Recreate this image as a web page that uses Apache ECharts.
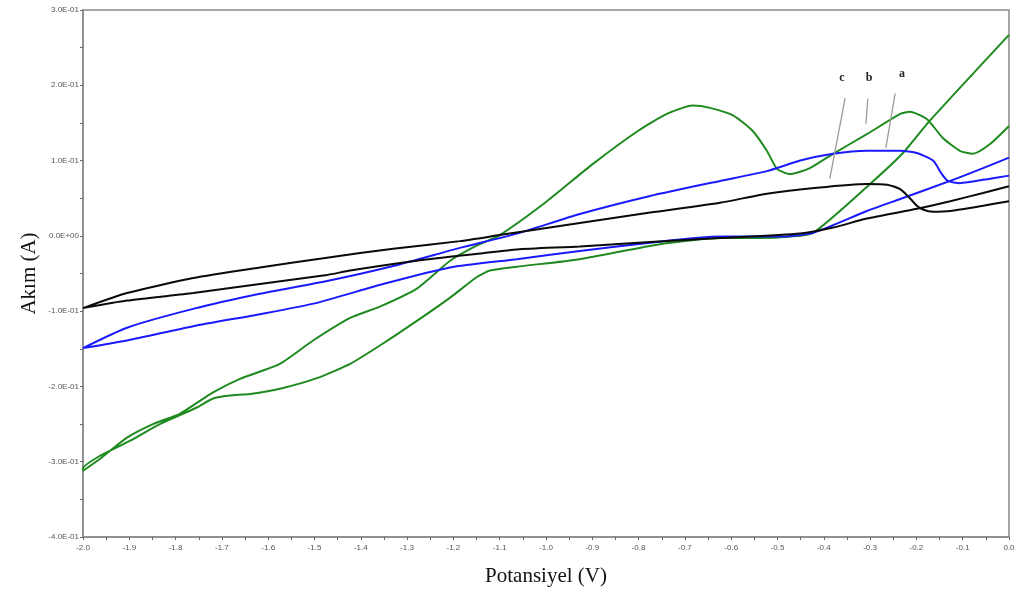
<!DOCTYPE html>
<html>
<head>
<meta charset="utf-8">
<script src="https://cdn.jsdelivr.net/npm/echarts@6/dist/echarts.min.js"></script>
<style>
  html, body { margin: 0; padding: 0; background: #fff; }
  #main { width: 1023px; height: 592px; }
</style>
</head>
<body>
<div id="main"></div>
<script>
// potansiyel (V), akim (A) - each curve: forward sweep 0 -> -2, then back -2 -> 0
var greenFwd = [
  [0.0, 0.267], [-0.171, 0.153], [-0.229, 0.110], [-0.300, 0.069], [-0.423, 0.004],
  [-0.473, -0.001], [-0.538, -0.003], [-0.624, -0.003], [-0.754, -0.011], [-0.927, -0.031],
  [-1.063, -0.041], [-1.121, -0.046], [-1.150, -0.055], [-1.207, -0.082], [-1.279, -0.113],
  [-1.352, -0.143], [-1.423, -0.170], [-1.495, -0.189], [-1.568, -0.202], [-1.639, -0.210],
  [-1.683, -0.212], [-1.719, -0.216], [-1.754, -0.228], [-1.834, -0.250], [-1.898, -0.272],
  [-1.963, -0.292], [-2.0, -0.309]
];
var greenRev = [
  [-2.0, -0.312], [-1.963, -0.296], [-1.905, -0.268], [-1.849, -0.250], [-1.790, -0.236],
  [-1.719, -0.208], [-1.661, -0.190], [-1.575, -0.170], [-1.503, -0.139], [-1.423, -0.109],
  [-1.359, -0.094], [-1.279, -0.070], [-1.207, -0.033], [-1.150, -0.013], [-1.100, 0.001],
  [-1.000, 0.045], [-0.900, 0.095], [-0.800, 0.140], [-0.739, 0.162],
  [-0.683, 0.173], [-0.646, 0.170], [-0.596, 0.160], [-0.553, 0.139], [-0.523, 0.113],
  [-0.501, 0.089], [-0.473, 0.082], [-0.430, 0.090], [-0.380, 0.109], [-0.307, 0.135],
  [-0.235, 0.162], [-0.214, 0.165], [-0.177, 0.155], [-0.143, 0.130], [-0.106, 0.113],
  [-0.078, 0.109], [-0.041, 0.122], [0.0, 0.146]
];
var blueFwd = [
  [0.0, 0.104], [-0.056, 0.090], [-0.127, 0.073], [-0.235, 0.049], [-0.307, 0.033],
  [-0.423, 0.004], [-0.495, -0.001], [-0.624, -0.001], [-0.775, -0.009], [-0.927, -0.020],
  [-1.063, -0.031], [-1.207, -0.042], [-1.352, -0.064], [-1.495, -0.089], [-1.618, -0.104],
  [-1.762, -0.120], [-1.905, -0.139], [-2.0, -0.149]
];
var blueRev = [
  [-2.0, -0.149], [-1.905, -0.122], [-1.762, -0.097], [-1.618, -0.077], [-1.473, -0.060],
  [-1.330, -0.040], [-1.186, -0.016], [-1.063, 0.003], [-0.927, 0.029], [-0.775, 0.053],
  [-0.624, 0.073], [-0.523, 0.086], [-0.451, 0.100], [-0.380, 0.109], [-0.307, 0.113],
  [-0.235, 0.113], [-0.199, 0.110], [-0.164, 0.100], [-0.145, 0.082], [-0.132, 0.073],
  [-0.106, 0.070], [-0.041, 0.076], [0.0, 0.080]
];
var blackFwd = [
  [0.0, 0.066], [-0.056, 0.057], [-0.127, 0.046], [-0.199, 0.036], [-0.307, 0.023],
  [-0.380, 0.011], [-0.451, 0.003], [-0.624, -0.003], [-0.775, -0.008], [-0.927, -0.014],
  [-1.063, -0.018], [-1.136, -0.023], [-1.279, -0.033], [-1.423, -0.046], [-1.473, -0.052],
  [-1.618, -0.064], [-1.762, -0.076], [-1.905, -0.086], [-2.0, -0.096]
];
var blackRev = [
  [-2.0, -0.096], [-1.905, -0.076], [-1.762, -0.056], [-1.618, -0.042], [-1.473, -0.029],
  [-1.330, -0.017], [-1.186, -0.007], [-1.100, 0.001], [-0.927, 0.017], [-0.775, 0.031],
  [-0.624, 0.044], [-0.523, 0.056], [-0.415, 0.064], [-0.307, 0.069], [-0.263, 0.068],
  [-0.235, 0.062], [-0.214, 0.050], [-0.199, 0.040], [-0.186, 0.035], [-0.164, 0.032],
  [-0.127, 0.033], [-0.056, 0.040], [0.0, 0.046]
];
// curve labels a, b, c and their pointer lines
var labelNames = ['c', 'b', 'a'];
var labelPos = [[-0.361, 0.210], [-0.302, 0.210], [-0.231, 0.215]];
var pointerFrom = [[-0.354, 0.183], [-0.305, 0.182], [-0.246, 0.189]];
var pointerTo = [[-0.387, 0.076], [-0.309, 0.149], [-0.266, 0.117]];

function fmtE(v) {
  v = Math.round(v * 1e6) / 1e6;
  if (v === 0) return '0.0E+00';
  var e = Math.floor(Math.log10(Math.abs(v)) + 1e-9);
  var m = v / Math.pow(10, e);
  var ae = Math.abs(e);
  return m.toFixed(1) + 'E' + (e < 0 ? '-' : '+') + (ae < 10 ? '0' : '') + ae;
}

var myChart = echarts.init(document.getElementById('main'));
var axisGray = '#8a8a8a';

function curve(data, color) {
  return {
    type: 'line',
    data: data,
    showSymbol: false,
    smooth: 0.2,
    lineStyle: { color: color, width: 2 },
    itemStyle: { color: color },
    z: 3
  };
}

var series = [
  curve(greenFwd.concat(greenRev), '#1f8a1f'),
  curve(blueFwd.concat(blueRev), '#1a1aff'),
  curve(blackFwd.concat(blackRev), '#0a0a0a')
];

series.push({
  type: 'line',
  data: [],
  markLine: {
    silent: true,
    symbol: ['none', 'none'],
    label: { show: false },
    lineStyle: { color: '#9a9a9a', width: 1.3, type: 'solid' },
    data: pointerFrom.map(function (p, i) {
      return [{ coord: p }, { coord: pointerTo[i] }];
    })
  },
  markPoint: {
    silent: true,
    symbol: 'circle',
    symbolSize: 0,
    label: {
      show: true,
      position: 'inside',
      formatter: '{b}',
      color: '#222',
      fontFamily: 'Liberation Serif',
      fontWeight: 'bold',
      fontSize: 12
    },
    data: labelNames.map(function (n, i) {
      return { name: n, coord: labelPos[i] };
    })
  }
});

myChart.setOption({
  animation: false,
  backgroundColor: '#fff',
  grid: {
    left: 83, right: 14, top: 10, bottom: 55,
    containLabel: false,
    outerBoundsMode: 'none',
    show: true,
    borderColor: axisGray,
    borderWidth: 1.5
  },
  xAxis: {
    type: 'value',
    min: -2.0,
    max: 0.0,
    interval: 0.1,
    name: 'Potansiyel (V)',
    nameLocation: 'middle',
    nameGap: 29,
    nameMoveOverlap: false,
    nameTextStyle: { fontFamily: 'Liberation Serif', fontSize: 21, color: '#111' },
    axisLine: { onZero: false, lineStyle: { color: axisGray, width: 1.5 } },
    axisTick: { show: true, inside: false, length: 3, lineStyle: { color: '#666' } },
    minorTick: { show: true, splitNumber: 2, length: 3, lineStyle: { color: '#666' } },
    splitLine: { show: false },
    axisLabel: {
      fontFamily: 'Liberation Sans',
      fontSize: 8,
      color: '#555',
      margin: 7,
      formatter: function (v) { return (Math.round(v * 10) / 10 + 0).toFixed(1); }
    }
  },
  yAxis: {
    type: 'value',
    min: -0.4,
    max: 0.3,
    interval: 0.1,
    name: 'Akım (A)',
    nameLocation: 'middle',
    nameGap: 43,
    nameMoveOverlap: false,
    nameTextStyle: { fontFamily: 'Liberation Serif', fontSize: 21, color: '#111' },
    axisLine: { show: true, onZero: false, lineStyle: { color: axisGray, width: 1.5 } },
    axisTick: { show: true, length: 3, lineStyle: { color: '#666' } },
    minorTick: { show: true, splitNumber: 2, length: 3, lineStyle: { color: '#666' } },
    splitLine: { show: false },
    axisLabel: {
      fontFamily: 'Liberation Sans',
      fontSize: 8,
      color: '#555',
      margin: 4,
      formatter: fmtE
    }
  },
  series: series
});
</script>
</body>
</html>
